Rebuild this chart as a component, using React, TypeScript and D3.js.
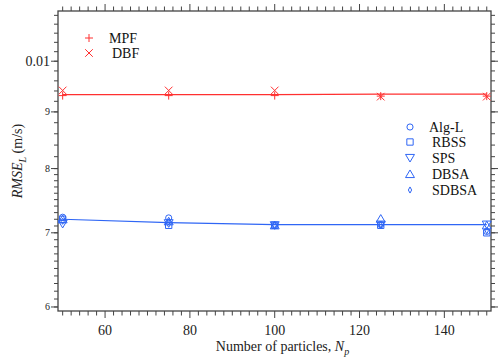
import React, { useEffect, useRef } from 'react';
import * as d3 from 'd3';

// number of particles
const particles = [50, 75, 100, 125, 150];

// red group
const mpf = [0.00931, 0.00931, 0.00931, 0.0093, 0.0093];
const dbf = [0.00941, 0.00941, 0.00941, 0.00929, 0.00929];
const redFit = [0.00933, 0.00933, 0.00933, 0.00934, 0.00934];

// blue group
const algL = [0.00723, 0.00722, 0.00711, 0.00712, 0.00702];
const rbss = [0.0072, 0.00711, 0.00711, 0.00711, 0.007];
const sps = [0.00713, 0.00714, 0.00711, 0.00712, 0.00712];
const dbsa = [0.0072, 0.00717, 0.00711, 0.00721, 0.00711];
const sdbsa = [0.00717, 0.00716, 0.00711, 0.00712, 0.00703];
const blueFit = [0.0072, 0.00715, 0.00712, 0.00712, 0.00712];

const xTicks = [60, 80, 100, 120, 140];
const yMajor = [0.006, 0.007, 0.008, 0.009, 0.01];
const yLabels = ['6', '7', '8', '9', '0.01'];

const RED = '#ff3030';
const BLUE = '#2f66f5';

const App = () => {
  const ref = useRef<SVGSVGElement>(null);

  useEffect(() => {
    const width = 498;
    const height = 357;
    const margin = { top: 11, right: 7, bottom: 46, left: 58 };

    const svg = d3.select(ref.current);
    svg.selectAll('*').remove();

    const x = d3.scaleLinear().domain([48.9, 151]).range([margin.left, width - margin.right]);
    const y = d3.scaleLog().domain([0.00595, 0.0111]).range([height - margin.bottom, margin.top]);

    const [x0, x1] = x.range();
    const [y0, y1] = y.range();
    const axisColor = '#444';

    // frame
    svg.append('rect')
      .attr('x', x0).attr('y', y1)
      .attr('width', x1 - x0).attr('height', y0 - y1)
      .attr('fill', 'none').attr('stroke', axisColor).attr('stroke-width', 1.3);

    // x ticks (bottom and top, outward)
    const xMinor = d3.range(50, 151, 2);
    const xt = svg.append('g').attr('stroke', axisColor).attr('stroke-width', 1);
    xMinor.forEach(v => {
      const major = v % 20 === 0;
      const len = major ? 7 : 4.5;
      xt.append('line').attr('x1', x(v)).attr('x2', x(v)).attr('y1', y0).attr('y2', y0 + len);
      xt.append('line').attr('x1', x(v)).attr('x2', x(v)).attr('y1', y1).attr('y2', y1 - len);
    });
    svg.selectAll('.xlab')
      .data(xTicks)
      .enter()
      .append('text')
      .attr('x', d => x(d))
      .attr('y', y0 + 24)
      .attr('text-anchor', 'middle')
      .style('font-family', 'Liberation Serif, serif')
      .style('font-size', '14px')
      .attr('fill', '#222')
      .text(d => d);

    // y ticks (left and right, outward)
    const yMinor = d3.range(0.006, 0.0080001, 0.0001).concat(d3.range(0.008, 0.0111, 0.0002));
    const yt = svg.append('g').attr('stroke', axisColor).attr('stroke-width', 1);
    yMinor.forEach(v => {
      if (v < 0.00595 || v > 0.0111) return;
      yt.append('line').attr('x1', x0).attr('x2', x0 - 4).attr('y1', y(v)).attr('y2', y(v));
      yt.append('line').attr('x1', x1).attr('x2', x1 + 4).attr('y1', y(v)).attr('y2', y(v));
    });
    yMajor.forEach(v => {
      yt.append('line').attr('x1', x0).attr('x2', x0 - 7).attr('y1', y(v)).attr('y2', y(v));
      yt.append('line').attr('x1', x1).attr('x2', x1 + 7).attr('y1', y(v)).attr('y2', y(v));
    });
    svg.selectAll('.ylab')
      .data(yMajor)
      .enter()
      .append('text')
      .attr('x', x0 - 8)
      .attr('y', d => y(d))
      .attr('dy', '0.35em')
      .attr('text-anchor', 'end')
      .style('font-family', 'Liberation Serif, serif')
      .style('font-size', (d, i) => (i === 4 ? '14px' : '10px'))
      .attr('fill', '#222')
      .text((d, i) => yLabels[i]);

    // axis titles
    const xt2 = svg.append('text')
      .attr('x', (x0 + x1) / 2 + 8)
      .attr('y', height - 6)
      .attr('text-anchor', 'middle')
      .style('font-family', 'Liberation Serif, serif')
      .style('font-size', '14px')
      .attr('fill', '#222');
    xt2.append('tspan').text('Number of particles, ');
    xt2.append('tspan').style('font-style', 'italic').text('N');
    xt2.append('tspan').style('font-style', 'italic').style('font-size', '10px').attr('dy', 4).text('p');

    const yt2 = svg.append('text')
      .attr('transform', `translate(22, ${(y0 + y1) / 2}) rotate(-90)`)
      .attr('text-anchor', 'middle')
      .style('font-family', 'Liberation Serif, serif')
      .style('font-size', '14px')
      .attr('fill', '#222');
    yt2.append('tspan').style('font-style', 'italic').text('RMSE');
    yt2.append('tspan').style('font-style', 'italic').style('font-size', '10px').attr('dy', 4).text('L');
    yt2.append('tspan').attr('dy', -4).text(' (m/s)');

    // fitted lines
    const line = d3.line<number>().x((d, i) => x(particles[i])).y(d => y(d));
    svg.append('path').attr('d', line(redFit)).attr('fill', 'none').attr('stroke', RED).attr('stroke-width', 1.2);
    svg.append('path').attr('d', line(blueFit)).attr('fill', 'none').attr('stroke', BLUE).attr('stroke-width', 1.2);

    // markers
    const sym = (type: d3.SymbolType, size: number) => d3.symbol().type(type).size(size)();
    const triDown = {
      draw(ctx: any, size: number) {
        const r = Math.sqrt(size / 1.3);
        ctx.moveTo(-r, -r * 0.8);
        ctx.lineTo(r, -r * 0.8);
        ctx.lineTo(0, r * 0.9);
        ctx.closePath();
      }
    };
    const triUp = {
      draw(ctx: any, size: number) {
        const r = Math.sqrt(size / 1.3);
        ctx.moveTo(-r, r * 0.8);
        ctx.lineTo(r, r * 0.8);
        ctx.lineTo(0, -r * 0.9);
        ctx.closePath();
      }
    };
    const thinDiamond = {
      draw(ctx: any, size: number) {
        const r = Math.sqrt(size) / 2;
        ctx.moveTo(0, -r * 1.3);
        ctx.lineTo(r * 0.7, 0);
        ctx.lineTo(0, r * 1.3);
        ctx.lineTo(-r * 0.7, 0);
        ctx.closePath();
      }
    };

    const series = [
      { name: 'MPF', values: mpf, type: d3.symbolCross, color: RED, size: 0, kind: 'plus' },
      { name: 'DBF', values: dbf, type: d3.symbolX, color: RED, size: 0, kind: 'x' },
      { name: 'Alg-L', values: algL, type: d3.symbolCircle, color: BLUE, size: 30, kind: 'sym' },
      { name: 'RBSS', values: rbss, type: d3.symbolSquare, color: BLUE, size: 40, kind: 'sym' },
      { name: 'SPS', values: sps, type: triDown as any, color: BLUE, size: 26, kind: 'sym' },
      { name: 'DBSA', values: dbsa, type: triUp as any, color: BLUE, size: 26, kind: 'sym' },
      { name: 'SDBSA', values: sdbsa, type: thinDiamond as any, color: BLUE, size: 22, kind: 'sym' }
    ];

    const drawMarker = (g: any, s: any, cx: number, cy: number) => {
      if (s.kind === 'plus') {
        g.append('path')
          .attr('d', `M${cx - 4},${cy}H${cx + 4}M${cx},${cy - 4}V${cy + 4}`)
          .attr('stroke', s.color).attr('stroke-width', 1).attr('fill', 'none');
      } else if (s.kind === 'x') {
        g.append('path')
          .attr('d', `M${cx - 3.8},${cy - 3.8}L${cx + 3.8},${cy + 3.8}M${cx - 3.8},${cy + 3.8}L${cx + 3.8},${cy - 3.8}`)
          .attr('stroke', s.color).attr('stroke-width', 1).attr('fill', 'none');
      } else {
        g.append('path')
          .attr('d', sym(s.type, s.size))
          .attr('transform', `translate(${cx},${cy})`)
          .attr('stroke', s.color).attr('stroke-width', 1).attr('fill', 'none');
      }
    };

    const marks = svg.append('g');
    series.forEach(s => {
      s.values.forEach((v, i) => drawMarker(marks, s, x(particles[i]), y(v)));
    });

    // legends
    const leg = svg.append('g')
      .style('font-family', 'Liberation Serif, serif')
      .style('font-size', '14px')
      .attr('fill', '#111');
    const legPos = [
      { mx: 89, my: 38, tx: 109 },
      { mx: 89, my: 53, tx: 112 },
      { mx: 410, my: 127, tx: 429 },
      { mx: 410, my: 142, tx: 432 },
      { mx: 410, my: 158, tx: 432 },
      { mx: 410, my: 174, tx: 432 },
      { mx: 410, my: 190, tx: 432 }
    ];
    series.forEach((s, i) => {
      const p = legPos[i];
      drawMarker(leg, s, p.mx, p.my);
      leg.append('text').attr('x', p.tx).attr('y', p.my + 5).text(s.name);
    });
  }, []);

  return <svg ref={ref} width={498} height={357} style={{ display: 'block', position: 'absolute', left: 0, top: 0, background: '#fff' }} />;
};

export default App;
